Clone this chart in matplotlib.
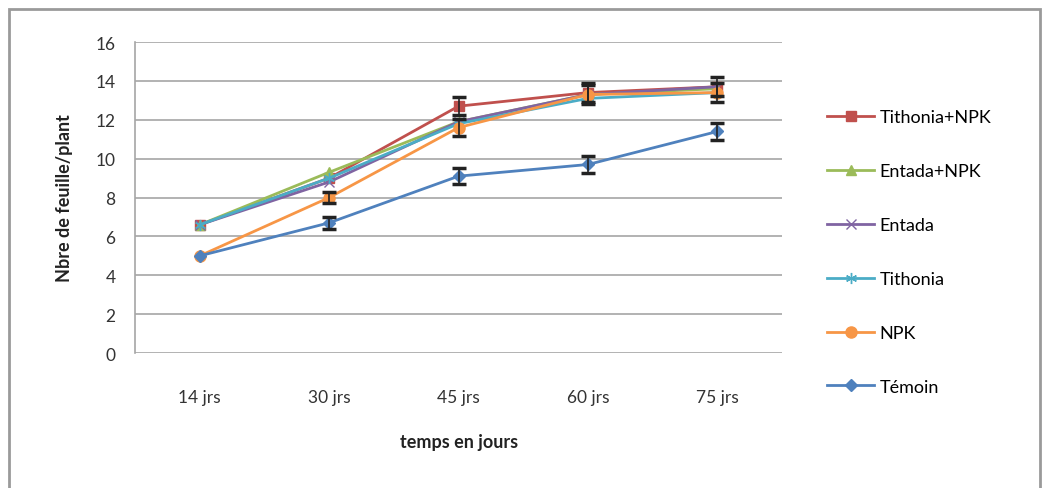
import matplotlib.pyplot as plt
from matplotlib.patches import Rectangle

plt.rcParams['font.family'] = ['Lato', 'DejaVu Sans']

# data
jours = ['14 jrs', '30 jrs', '45 jrs', '60 jrs', '75 jrs']

tithonia_npk = [6.6, 9.0, 12.7, 13.4, 13.7]
entada_npk = [6.6, 9.3, 11.9, 13.3, 13.6]
entada = [6.6, 8.8, 11.9, 13.3, 13.7]
tithonia = [6.6, 9.0, 11.8, 13.1, 13.4]
npk = [5.0, 8.0, 11.6, 13.3, 13.4]
temoin = [5.0, 6.7, 9.1, 9.7, 11.4]

# error bars (0 = none visible)
err_tithonia_npk = [0.0, 0.0, 0.45, 0.5, 0.5]
err_npk = [0.0, 0.3, 0.45, 0.5, 0.5]
err_temoin = [0.0, 0.3, 0.4, 0.45, 0.45]

series = [
    ('Tithonia+NPK', tithonia_npk, err_tithonia_npk, '#C0504D', 's', 7),
    ('Entada+NPK', entada_npk, None, '#9BBB59', '^', 7),
    ('Entada', entada, None, '#8064A2', 'x', 7),
    ('Tithonia', tithonia, None, '#4BACC6', (6, 2, 0), 8),
    ('NPK', npk, err_npk, '#F79646', 'o', 8),
    ('Témoin', temoin, err_temoin, '#4F81BD', 'D', 6),
]

fig = plt.figure(figsize=(10.42, 4.89), dpi=100)
ax = fig.add_axes([0.1296, 0.276, 0.621, 0.636])

x = list(range(len(jours)))
for name, vals, err, col, mk, ms in series:
    ax.plot(x, vals, color=col, marker=mk, markersize=ms, linewidth=2,
            label=name, zorder=3)
    if err is not None:
        idx = [i for i in x if err[i] > 0]
        ax.errorbar([x[i] for i in idx], [vals[i] for i in idx],
                    yerr=[err[i] for i in idx], fmt='none', ecolor='#222222',
                    elinewidth=1.2, capsize=5, capthick=2.5, zorder=4)

ax.set_xlim(-0.5, 4.5)
ax.set_ylim(0, 16)
ax.set_yticks(range(0, 17, 2))
ax.set_xticks(x)
ax.set_xticklabels(jours)
ax.tick_params(axis='both', length=0, labelsize=12.5, colors='#333333')
ax.tick_params(axis='y', pad=14)
ax.tick_params(axis='x', pad=26)

ax.grid(axis='y', color='#a6a6a6', linewidth=1.2)
ax.set_axisbelow(True)
for s in ['top', 'right', 'bottom']:
    ax.spines[s].set_visible(False)
ax.spines['left'].set_color('#a6a6a6')
ax.spines['left'].set_linewidth(1.2)

ax.set_ylabel('Nbre de feuille/plant', fontsize=13, fontweight='bold',
              color='#222222', labelpad=16)
ax.set_xlabel('temps en jours', fontsize=13, fontweight='bold',
              color='#222222', labelpad=20)

ax.legend(loc='center left', bbox_to_anchor=(1.045, 0.325), frameon=False,
          fontsize=13, labelspacing=2.1, handlelength=2.6,
          handletextpad=0.3)

fig.patches.append(Rectangle((0.009, -0.05), 0.989, 1.03, transform=fig.transFigure,
                             fill=False, edgecolor='#9a9a9a', linewidth=2))

fig.savefig('out.png', dpi=100)
